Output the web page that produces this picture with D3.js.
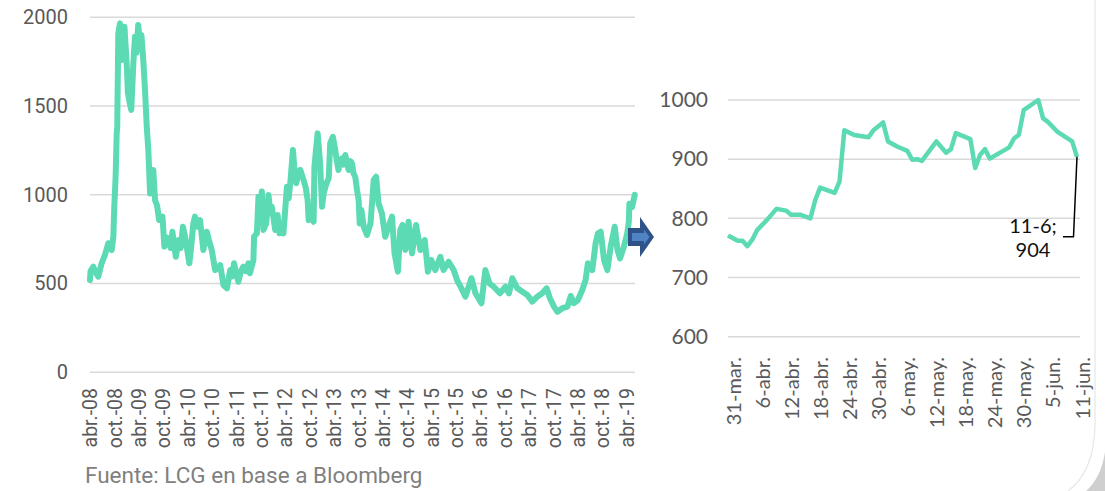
<!DOCTYPE html>
<html>
<head>
<meta charset="utf-8">
<script src="https://cdn.jsdelivr.net/npm/d3@7"></script>
<style>
  html, body { margin: 0; padding: 0; background: #ffffff; }
  svg { display: block; }
</style>
</head>
<body>
<svg id="chart" width="1105" height="491"></svg>
<script>
// ---- Long-run series (2008 - 2019) ----
const longDates = [
  "2008-04-01","2008-04-05","2008-04-25","2008-05-15","2008-06-02","2008-06-27","2008-07-22","2008-08-16",
  "2008-09-11","2008-09-23","2008-09-30","2008-10-10","2008-10-18","2008-10-22","2008-10-30","2008-11-12",
  "2008-11-25","2008-12-05","2008-12-15","2009-01-02","2009-01-10","2009-01-23","2009-02-04","2009-02-21",
  "2009-03-04","2009-03-15","2009-03-28","2009-04-10","2009-04-21","2009-05-05","2009-05-18","2009-05-31",
  "2009-06-12","2009-06-25","2009-07-06","2009-07-19","2009-08-01","2009-08-16","2009-09-01","2009-09-26",
  "2009-10-10","2009-10-27","2009-11-10","2009-11-26","2009-12-09","2009-12-22","2010-01-04","2010-01-24",
  "2010-02-09","2010-02-26","2010-03-14","2010-03-28","2010-04-15","2010-04-28","2010-05-15","2010-05-27",
  "2010-06-15","2010-07-04","2010-07-29","2010-08-24","2010-09-10","2010-09-30","2010-10-25","2010-11-19",
  "2010-12-02","2010-12-27","2011-01-22","2011-02-15","2011-03-01","2011-03-16","2011-03-31","2011-04-17",
  "2011-05-07","2011-05-24","2011-06-13","2011-07-01","2011-07-13","2011-08-08","2011-08-13","2011-09-03",
  "2011-09-15","2011-09-28","2011-10-10","2011-10-22","2011-11-12","2011-11-29","2011-12-12","2011-12-24",
  "2012-01-18","2012-02-05","2012-02-20","2012-03-06","2012-03-20","2012-04-02","2012-04-15","2012-04-28",
  "2012-05-10","2012-05-30","2012-06-09","2012-06-24","2012-07-09","2012-07-24","2012-08-18","2012-09-03",
  "2012-09-17","2012-09-25","2012-10-15","2012-11-01","2012-11-07","2012-11-18","2012-12-01","2012-12-12",
  "2012-12-21","2013-01-03","2013-01-15","2013-02-05","2013-02-22","2013-03-05","2013-03-25","2013-04-12",
  "2013-04-24","2013-05-06","2013-05-19","2013-06-01","2013-06-13","2013-06-26","2013-07-09","2013-07-21",
  "2013-08-03","2013-08-15","2013-08-27","2013-09-09","2013-09-22","2013-10-04","2013-10-12","2013-10-25",
  "2013-11-11","2013-12-06","2014-01-01","2014-01-25","2014-02-12","2014-03-02","2014-03-27","2014-04-21",
  "2014-05-16","2014-06-11","2014-06-30","2014-07-25","2014-08-12","2014-08-29","2014-09-19","2014-10-13",
  "2014-11-08","2014-12-08","2015-01-10","2015-02-11","2015-03-07","2015-04-01","2015-05-01","2015-06-08",
  "2015-07-02","2015-08-09","2015-09-16","2015-10-11","2015-11-13","2015-12-13","2016-01-27","2016-02-26",
  "2016-04-11","2016-05-10","2016-06-10","2016-07-12","2016-08-27","2016-10-08","2016-11-03","2016-11-28",
  "2017-01-05","2017-02-12","2017-03-20","2017-04-27","2017-06-03","2017-07-10","2017-08-12","2017-09-06",
  "2017-10-06","2017-11-01","2017-12-08","2018-01-15","2018-02-09","2018-03-04","2018-04-03","2018-05-06",
  "2018-05-31","2018-06-17","2018-07-20","2018-08-14","2018-09-01","2018-09-21","2018-10-16","2018-11-10",
  "2018-12-05","2019-01-04","2019-01-25","2019-02-13","2019-03-14","2019-04-08","2019-04-20","2019-04-24",
  "2019-05-14","2019-06-03"
];
const longValues = [
  520,570,595,560,539,614,661,727,
  689,764,933,1102,1346,1384,1910,1966,
  1759,1850,1947,1722,1572,1520,1478,1759,
  1891,1800,1957,1853,1900,1759,1590,1384,
  1252,1008,1080,1140,971,940,858,877,
  708,760,745,700,792,720,651,745,
  700,820,764,700,614,700,839,877,
  820,858,689,792,740,689,576,595,
  604,490,473,576,540,614,560,510,
  570,595,570,614,558,633,764,783,
  989,900,1018,802,839,999,900,933,
  802,886,783,820,783,914,1046,980,
  1065,1252,1158,1065,1120,1140,1083,1040,
  971,858,870,848,1158,1250,1346,1250,
  1158,933,1008,1065,1093,1290,1327,1252,
  1190,1140,1190,1205,1170,1224,1180,1140,
  1190,1177,1120,1100,1027,971,839,914,
  820,774,839,1083,1102,952,896,764,
  820,877,670,567,802,830,689,848,
  670,830,689,745,567,633,576,651,
  576,623,576,520,473,426,530,445,
  389,576,501,482,445,482,445,530,
  473,454,436,398,426,445,473,417,
  370,341,361,370,430,389,407,464,
  520,614,576,727,783,792,633,576,
  708,820,689,642,708,783,850,949,
  930,1000
];
const longTickDates = [
  "2008-04-01","2008-10-01","2009-04-01","2009-10-01","2010-04-01","2010-10-01",
  "2011-04-01","2011-10-01","2012-04-01","2012-10-01","2013-04-01","2013-10-01",
  "2014-04-01","2014-10-01","2015-04-01","2015-10-01","2016-04-01","2016-10-01",
  "2017-04-01","2017-10-01","2018-04-01","2018-10-01","2019-04-01"
];
const longTickLabels = [
  "abr.-08","oct.-08","abr.-09","oct.-09","abr.-10","oct.-10",
  "abr.-11","oct.-11","abr.-12","oct.-12","abr.-13","oct.-13",
  "abr.-14","oct.-14","abr.-15","oct.-15","abr.-16","oct.-16",
  "abr.-17","oct.-17","abr.-18","oct.-18","abr.-19"
];
const longYTicks = [0, 500, 1000, 1500, 2000];

// ---- Recent series (31-mar to 11-jun 2019) ----
const recentDates = [
  "2019-03-31","2019-04-02","2019-04-03","2019-04-04","2019-04-05","2019-04-06","2019-04-08","2019-04-10",
  "2019-04-12","2019-04-13","2019-04-15","2019-04-17","2019-04-18","2019-04-19","2019-04-22","2019-04-23",
  "2019-04-24","2019-04-26","2019-04-29","2019-04-30","2019-05-02","2019-05-03","2019-05-05","2019-05-07",
  "2019-05-08","2019-05-09","2019-05-10","2019-05-13","2019-05-15","2019-05-16","2019-05-17","2019-05-20",
  "2019-05-21","2019-05-22","2019-05-23","2019-05-24","2019-05-28","2019-05-29","2019-05-30","2019-05-31",
  "2019-06-03","2019-06-04","2019-06-05","2019-06-07","2019-06-10","2019-06-11"
];
const recentValues = [
  771,762,762,753,764,780,797,816,
  813,806,806,800,831,852,843,862,
  949,941,937,949,962,930,921,914,
  899,900,897,930,911,917,944,934,
  885,907,917,901,920,935,941,983,
  1000,969,963,946,930,904
];
const recentTickDates = [
  "2019-03-31","2019-04-06","2019-04-12","2019-04-18","2019-04-24","2019-04-30","2019-05-06",
  "2019-05-12","2019-05-18","2019-05-24","2019-05-30","2019-06-05","2019-06-11"
];
const recentTickLabels = [
  "31-mar.","6-abr.","12-abr.","18-abr.","24-abr.","30-abr.","6-may.",
  "12-may.","18-may.","24-may.","30-may.","5-jun.","11-jun."
];
const recentYTicks = [600, 700, 800, 900, 1000];
const lastLabel = ["11-6;", "904"];
const sourceText = "Fuente: LCG en base a Bloomberg";

// ---- Drawing ----
const parse = d3.utcParse("%Y-%m-%d");
const svg = d3.select("#chart");
const lineColor = "#5cdab3";
const gridColor = "#d9d9d9";
const labelColor = "#595959";

// Left panel
const xL = d3.scaleUtc().domain([parse("2008-04-01"), parse("2019-06-05")]).range([90, 635]);
const yL = d3.scaleLinear().domain([0, 2000]).range([372.3, 17.3]);

const left = svg.append("g");
left.append("g").selectAll("line").data(longYTicks).join("line")
  .attr("x1", 90).attr("x2", 635)
  .attr("y1", d => yL(d)).attr("y2", d => yL(d))
  .attr("stroke", gridColor).attr("stroke-width", 1.5);

const yAxisL = left.append("g").attr("transform", "translate(68,0)")
  .call(d3.axisLeft(yL).tickValues(longYTicks).tickSize(0).tickPadding(0).tickFormat(d3.format("d")));
yAxisL.select(".domain").remove();
yAxisL.selectAll("text").attr("font-family", "Roboto").attr("font-size", 20).attr("fill", labelColor);

const xTickL = longTickDates.map(parse);
const xAxisL = left.append("g").attr("transform", "translate(0,388)")
  .call(d3.axisBottom(xL).tickValues(xTickL).tickSize(0).tickPadding(0)
    .tickFormat((d, i) => longTickLabels[i]));
xAxisL.select(".domain").remove();
xAxisL.selectAll("text")
  .attr("font-family", "Roboto").attr("font-size", 19.5).attr("fill", labelColor)
  .attr("transform", "rotate(-90)")
  .attr("text-anchor", "end")
  .attr("x", 0).attr("y", 0).attr("dy", "0.35em");

const longData = longDates.map((d, i) => ({ date: parse(d), value: longValues[i] }));
left.append("path").datum(longData)
  .attr("fill", "none").attr("stroke", lineColor).attr("stroke-width", 6)
  .attr("stroke-linejoin", "round").attr("stroke-linecap", "round")
  .attr("d", d3.line().x(d => xL(d.date)).y(d => yL(d.value)));

// Block arrow linking the two panels
const arrow = svg.append("g");
arrow.append("path")
  .attr("d", "M628,228 L640,228 L640,217 L654,237 L640,257 L640,246 L628,246 Z")
  .attr("fill", "#2f5389");
arrow.append("path")
  .attr("d", "M632,233 L644,233 L644,229.5 L649.5,237 L644,244.5 L644,241 L632,241 Z")
  .attr("fill", "#4f83c4");

// Source note
svg.append("text").attr("x", 85).attr("y", 483)
  .attr("font-family", "Roboto").attr("font-size", 22.5).attr("fill", "#7f7f7f")
  .text(sourceText);

// Right panel
const xR = d3.scaleUtc().domain([parse("2019-03-31"), parse("2019-06-11")]).range([728, 1077]);
const yR = d3.scaleLinear().domain([600, 1000]).range([336.7, 100]);

const right = svg.append("g");
right.append("g").selectAll("line").data(recentYTicks).join("line")
  .attr("x1", 728).attr("x2", 1080)
  .attr("y1", d => yR(d)).attr("y2", d => yR(d))
  .attr("stroke", gridColor).attr("stroke-width", 1.5);

const yAxisR = right.append("g").attr("transform", "translate(708,0)")
  .call(d3.axisLeft(yR).tickValues(recentYTicks).tickSize(0).tickPadding(0).tickFormat(d3.format("d")));
yAxisR.select(".domain").remove();
yAxisR.selectAll("text").attr("font-family", "Lato").attr("font-size", 21).attr("fill", labelColor);

const xTickR = recentTickDates.map(parse);
const xAxisR = right.append("g").attr("transform", "translate(5,357)")
  .call(d3.axisBottom(xR).tickValues(xTickR).tickSize(0).tickPadding(0)
    .tickFormat((d, i) => recentTickLabels[i]));
xAxisR.select(".domain").remove();
xAxisR.selectAll("text")
  .attr("font-family", "Lato").attr("font-size", 20).attr("fill", labelColor)
  .attr("transform", "rotate(-90)")
  .attr("text-anchor", "end")
  .attr("x", 0).attr("y", 0).attr("dy", "0.35em");

const recentData = recentDates.map((d, i) => ({ date: parse(d), value: recentValues[i] }));
right.append("path").datum(recentData)
  .attr("fill", "none").attr("stroke", lineColor).attr("stroke-width", 4.5)
  .attr("stroke-linejoin", "round").attr("stroke-linecap", "butt")
  .attr("d", d3.line().x(d => xR(d.date)).y(d => yR(d.value)));

// Callout for the last value
const last = recentData[recentData.length - 1];
const lx = xR(last.date), ly = yR(last.value);
right.append("path")
  .attr("d", `M${lx},${ly} L${lx - 3.5},236.7 L${lx - 14},236.7`)
  .attr("fill", "none").attr("stroke", "#000").attr("stroke-width", 1.5);
right.append("g").selectAll("text").data(lastLabel).join("text")
  .attr("x", 1033).attr("y", (d, i) => 233 + i * 24)
  .attr("text-anchor", "middle")
  .attr("font-family", "Lato").attr("font-size", 20).attr("fill", "#111")
  .text(d => d);

// Page edge at the lower right corner
svg.append("path")
  .attr("d", "M1095,0 L1095,425 Q1094,472 1068,491")
  .attr("fill", "none").attr("stroke", "#e6e6e6").attr("stroke-width", 1.2);
svg.append("path")
  .attr("d", "M1105,452 Q1101,478 1086,491 L1105,491 Z")
  .attr("fill", "#cfcfcf");
</script>
</body>
</html>
